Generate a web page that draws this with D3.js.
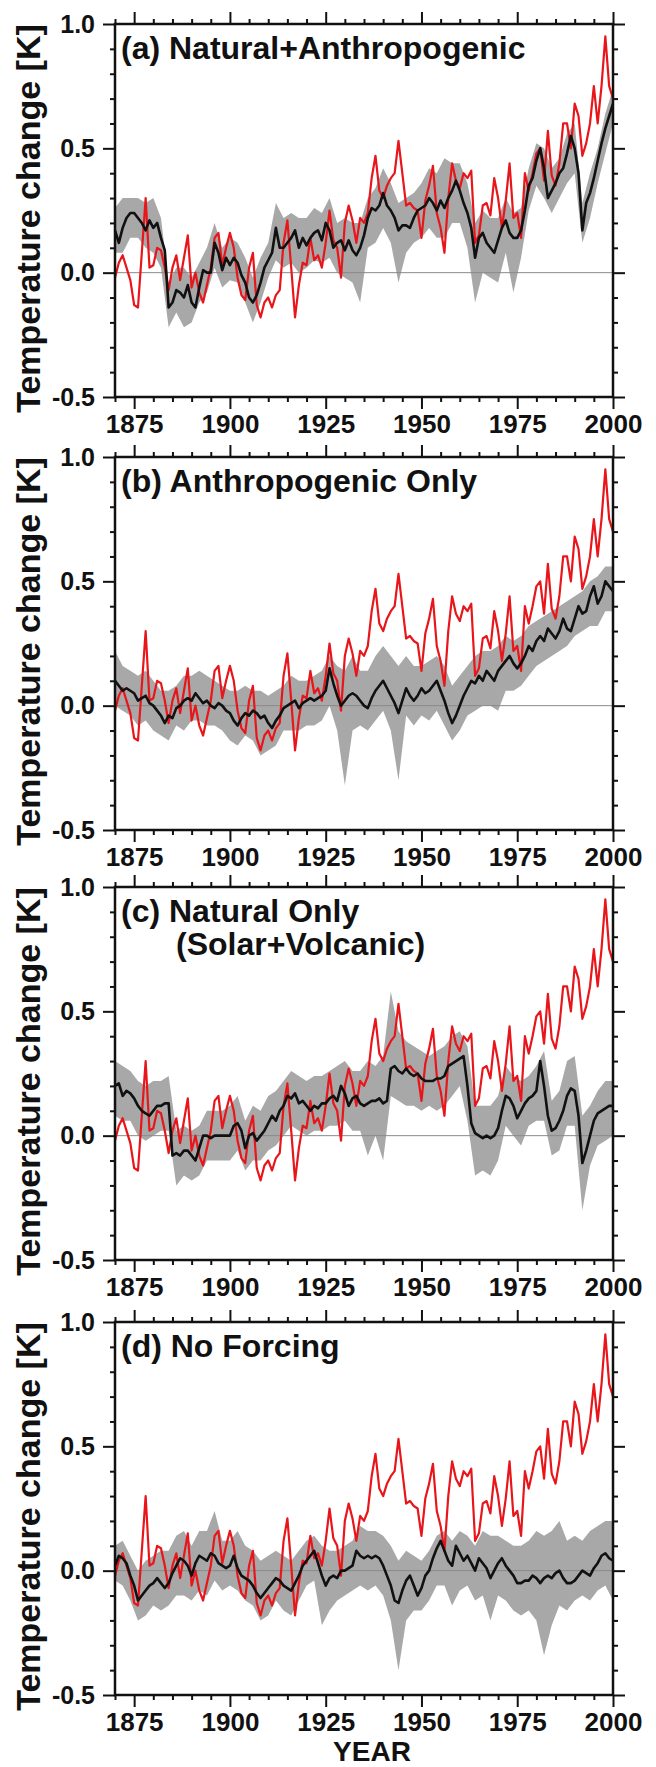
<!DOCTYPE html>
<html>
<head>
<meta charset="utf-8">
<script src="https://cdn.jsdelivr.net/npm/d3@7"></script>
<style>
    body { margin: 0; background: #fff; }
    svg { display: block; }
    text { font-family: "Liberation Sans", Arial, sans-serif; font-weight: bold; fill: #111; }
</style>
</head>
<body>
<svg id="chart" width="656" height="1767"></svg>
<script>
// years on the x axis, band is read every 2 years
var years = d3.range(1870, 2001);
var bandYears = d3.range(1870, 2001, 2);

var xTicks = [1875, 1900, 1925, 1950, 1975, 2000];
var xMinor = [1870, 1880, 1885, 1890, 1895, 1905, 1910, 1915, 1920, 1930, 1935, 1940, 1945, 1955, 1960, 1965, 1970, 1980, 1985, 1990, 1995];
var yTicks = [-0.5, 0.0, 0.5, 1.0];
var yMinor = [-0.4, -0.3, -0.2, -0.1, 0.1, 0.2, 0.3, 0.4, 0.6, 0.7, 0.8, 0.9];

var titles = [
    ["(a) Natural+Anthropogenic"],
    ["(b) Anthropogenic Only"],
    ["(c) Natural Only", "(Solar+Volcanic)"],
    ["(d) No Forcing"]
];

// observed (red), same in every panel
var observed = [
    -0.02, 0.04, 0.07, 0.02, -0.03, -0.13, -0.14, 0.08, 0.30, 0.02,
    0.03, 0.10, 0.09, 0.02, -0.07, 0.02, 0.07, -0.03, 0.06, 0.15,
    -0.06, 0.00, -0.08, -0.12, -0.05, 0.02, 0.14, 0.16, 0.03, 0.10,
    0.16, 0.10, -0.02, -0.09, -0.11, 0.02, 0.08, -0.13, -0.18, -0.12,
    -0.10, -0.14, -0.09, -0.07, 0.12, 0.21, 0.02, -0.18, -0.05, 0.04,
    0.03, 0.14, 0.05, 0.07, 0.02, 0.12, 0.25, 0.13, 0.10, -0.02,
    0.20, 0.27, 0.21, 0.12, 0.22, 0.20, 0.24, 0.38, 0.47, 0.33,
    0.30, 0.35, 0.38, 0.40, 0.53, 0.40, 0.27, 0.28, 0.26, 0.25,
    0.14, 0.29, 0.35, 0.43, 0.24, 0.18, 0.08, 0.30, 0.44, 0.37,
    0.34, 0.40, 0.38, 0.41, 0.12, 0.15, 0.27, 0.28, 0.23, 0.38,
    0.30, 0.18, 0.29, 0.44, 0.22, 0.24, 0.14, 0.40, 0.33, 0.40,
    0.48, 0.50, 0.37, 0.57, 0.39, 0.35, 0.44, 0.60, 0.60, 0.50,
    0.68, 0.63, 0.47, 0.52, 0.60, 0.75, 0.60, 0.75, 0.95, 0.75,
    0.70
];

// (a) natural + anthropogenic
var meanA = [
    0.17, 0.12, 0.18, 0.22, 0.24, 0.24, 0.22, 0.20, 0.17, 0.21,
    0.18, 0.20, 0.14, 0.09, -0.14, -0.12, -0.07, -0.08, -0.10, -0.05,
    -0.12, -0.14, -0.06, 0.01, 0.00, 0.00, 0.12, 0.08, 0.01, 0.06,
    0.03, 0.06, 0.04, -0.01, -0.04, -0.10, -0.12, -0.09, -0.04, 0.02,
    0.05, 0.08, 0.18, 0.10, 0.10, 0.12, 0.14, 0.17, 0.10, 0.14,
    0.11, 0.14, 0.16, 0.17, 0.13, 0.20, 0.17, 0.10, 0.12, 0.13,
    0.09, 0.13, 0.09, 0.07, 0.10, 0.15, 0.22, 0.26, 0.25, 0.27,
    0.32, 0.27, 0.25, 0.22, 0.17, 0.19, 0.19, 0.18, 0.22, 0.25,
    0.26, 0.27, 0.30, 0.28, 0.25, 0.29, 0.26, 0.30, 0.33, 0.37,
    0.33, 0.28, 0.24, 0.18, 0.06, 0.14, 0.16, 0.12, 0.10, 0.08,
    0.13, 0.18, 0.21, 0.16, 0.14, 0.14, 0.17, 0.25, 0.35, 0.38,
    0.45, 0.50, 0.42, 0.30, 0.33, 0.36, 0.40, 0.42, 0.48, 0.55,
    0.50, 0.40, 0.17, 0.28, 0.32, 0.38, 0.45, 0.52, 0.58, 0.63,
    0.68
];
var lowA = [
    0.08, 0.08, 0.14, 0.14, 0.10, 0.08, 0.02, -0.22, -0.16, -0.22,
    -0.20, -0.12, -0.08, 0.02, -0.06, -0.03, -0.04, -0.12, -0.20, -0.12,
    -0.02, 0.05, 0.02, 0.04, 0.00, 0.02, 0.05, 0.04, 0.06, 0.00,
    -0.02, -0.04, -0.12, 0.10, 0.12, 0.18, 0.12, -0.04, 0.08, 0.12,
    0.14, 0.18, 0.14, 0.14, 0.20, 0.20, 0.10, -0.12, 0.00, -0.02,
    -0.04, 0.08, -0.08, 0.06, 0.25, 0.35, 0.30, 0.24, 0.30, 0.36,
    0.40, 0.12, 0.22, 0.36, 0.48, 0.60
];
var highA = [
    0.26, 0.30, 0.30, 0.30, 0.28, 0.30, 0.22, -0.04, 0.02, 0.02,
    -0.02, 0.04, 0.10, 0.20, 0.10, 0.14, 0.12, 0.06, -0.02, 0.06,
    0.12, 0.28, 0.22, 0.24, 0.22, 0.22, 0.26, 0.24, 0.30, 0.20,
    0.22, 0.20, 0.20, 0.30, 0.34, 0.42, 0.36, 0.28, 0.30, 0.32,
    0.36, 0.42, 0.40, 0.46, 0.44, 0.44, 0.36, 0.20, 0.25, 0.22,
    0.22, 0.30, 0.24, 0.26, 0.42, 0.52, 0.50, 0.42, 0.46, 0.56,
    0.60, 0.28, 0.40, 0.50, 0.64, 0.74
];

// (b) anthropogenic only
var meanB = [
    0.10, 0.08, 0.06, 0.07, 0.06, 0.05, 0.02, 0.03, 0.04, 0.01,
    0.00, -0.02, -0.04, -0.07, -0.04, -0.05, -0.01, 0.00, 0.02, 0.03,
    0.02, 0.05, 0.03, 0.01, 0.02, 0.00, -0.01, 0.01, 0.00, -0.02,
    -0.03, -0.06, -0.08, -0.05, -0.03, -0.04, -0.02, -0.03, -0.05, -0.04,
    -0.07, -0.09, -0.06, -0.04, -0.01, 0.00, 0.01, 0.02, -0.01, 0.01,
    0.02, 0.03, 0.02, 0.03, 0.04, 0.06, 0.15, 0.09, 0.04, 0.00,
    0.02, 0.04, 0.05, 0.04, 0.02, 0.00, -0.01, 0.03, 0.06, 0.08,
    0.10, 0.07, 0.04, 0.01, -0.03, 0.02, 0.07, 0.04, 0.02, 0.04,
    0.07, 0.05, 0.06, 0.08, 0.10, 0.06, 0.02, -0.03, -0.07, -0.04,
    0.00, 0.04, 0.07, 0.10, 0.09, 0.12, 0.10, 0.14, 0.12, 0.10,
    0.14, 0.16, 0.18, 0.20, 0.17, 0.15, 0.17, 0.20, 0.24, 0.22,
    0.26, 0.28, 0.26, 0.31, 0.29, 0.27, 0.30, 0.35, 0.31, 0.30,
    0.35, 0.40, 0.37, 0.38, 0.44, 0.48, 0.41, 0.44, 0.50, 0.48,
    0.46
];
var lowB = [
    0.00, -0.02, -0.04, -0.08, -0.06, -0.10, -0.12, -0.14, -0.08, -0.10,
    -0.06, -0.06, -0.08, -0.08, -0.10, -0.14, -0.16, -0.12, -0.14, -0.20,
    -0.18, -0.16, -0.10, -0.10, -0.10, -0.08, -0.08, -0.06, 0.00, -0.10,
    -0.32, -0.10, -0.08, -0.10, -0.06, -0.02, -0.10, -0.30, -0.04, -0.08,
    -0.04, -0.06, -0.02, -0.08, -0.14, -0.10, -0.04, -0.02, 0.00, 0.00,
    -0.02, 0.06, 0.06, 0.08, 0.12, 0.16, 0.18, 0.20, 0.22, 0.24,
    0.28, 0.30, 0.32, 0.32, 0.38, 0.38
];
var highB = [
    0.22, 0.16, 0.14, 0.12, 0.14, 0.10, 0.06, 0.06, 0.08, 0.12,
    0.12, 0.14, 0.12, 0.10, 0.08, 0.06, 0.06, 0.08, 0.06, 0.06,
    0.04, 0.06, 0.08, 0.12, 0.10, 0.10, 0.12, 0.14, 0.20, 0.16,
    0.14, 0.20, 0.14, 0.14, 0.20, 0.24, 0.20, 0.16, 0.20, 0.16,
    0.16, 0.18, 0.20, 0.16, 0.08, 0.12, 0.16, 0.20, 0.22, 0.22,
    0.24, 0.28, 0.26, 0.28, 0.32, 0.34, 0.36, 0.38, 0.40, 0.42,
    0.44, 0.46, 0.50, 0.52, 0.56, 0.56
];

// (c) natural only
var meanC = [
    0.20, 0.21, 0.16, 0.18, 0.17, 0.15, 0.12, 0.10, 0.09, 0.08,
    0.10, 0.12, 0.12, 0.13, 0.13, -0.08, -0.07, -0.08, -0.06, -0.06,
    -0.08, -0.10, -0.05, 0.00, 0.00, -0.01, 0.00, 0.00, 0.00, 0.00,
    0.00, 0.04, 0.05, 0.02, -0.05, 0.00, 0.01, -0.02, 0.00, 0.02,
    0.05, 0.08, 0.06, 0.10, 0.12, 0.16, 0.15, 0.17, 0.13, 0.14,
    0.12, 0.10, 0.12, 0.11, 0.13, 0.13, 0.15, 0.16, 0.14, 0.20,
    0.17, 0.12, 0.15, 0.16, 0.13, 0.12, 0.13, 0.14, 0.14, 0.15,
    0.13, 0.14, 0.27, 0.28, 0.26, 0.25, 0.27, 0.25, 0.24, 0.25,
    0.23, 0.22, 0.22, 0.22, 0.23, 0.23, 0.24, 0.28, 0.29, 0.30,
    0.31, 0.32, 0.20, 0.05, 0.01, 0.00, -0.01, 0.00, -0.01, 0.00,
    0.03, 0.10, 0.16, 0.15, 0.12, 0.07, 0.10, 0.13, 0.15, 0.16,
    0.18, 0.30, 0.20, 0.08, 0.02, 0.03, 0.06, 0.10, 0.16, 0.19,
    0.18, 0.08, -0.11, -0.06, 0.00, 0.06, 0.09, 0.10, 0.11, 0.12,
    0.12
];
var lowC = [
    0.08, 0.06, 0.06, 0.00, -0.02, 0.00, 0.02, 0.02, -0.20, -0.16,
    -0.18, -0.16, -0.10, -0.10, -0.10, -0.10, -0.06, -0.14, -0.10, -0.10,
    -0.06, -0.04, 0.00, 0.04, 0.02, 0.00, 0.02, 0.02, 0.04, 0.04,
    0.06, 0.02, 0.02, -0.08, 0.00, -0.10, 0.16, 0.14, 0.12, 0.12,
    0.10, 0.12, 0.10, 0.12, 0.16, 0.20, 0.06, -0.16, -0.14, -0.16,
    -0.10, 0.04, 0.00, -0.04, 0.04, 0.06, 0.06, -0.08, -0.06, 0.04,
    0.04, -0.30, -0.12, -0.04, -0.02, 0.00
];
var highC = [
    0.30, 0.28, 0.26, 0.22, 0.20, 0.22, 0.22, 0.24, 0.02, 0.04,
    0.02, 0.04, 0.10, 0.10, 0.10, 0.12, 0.16, 0.06, 0.12, 0.10,
    0.16, 0.18, 0.22, 0.26, 0.24, 0.22, 0.24, 0.24, 0.26, 0.28,
    0.30, 0.26, 0.26, 0.30, 0.28, 0.32, 0.58, 0.42, 0.38, 0.36,
    0.34, 0.32, 0.34, 0.36, 0.40, 0.42, 0.36, 0.12, 0.12, 0.12,
    0.16, 0.28, 0.24, 0.22, 0.24, 0.28, 0.34, 0.14, 0.18, 0.30,
    0.32, 0.08, 0.12, 0.18, 0.22, 0.22
];

// (d) no forcing
var meanD = [
    0.02, 0.06, 0.05, 0.03, -0.02, -0.06, -0.12, -0.10, -0.08, -0.06,
    -0.05, -0.03, -0.05, -0.07, -0.05, -0.01, 0.02, 0.05, 0.04, 0.02,
    -0.02, 0.03, 0.06, 0.05, 0.04, 0.07, 0.06, 0.03, 0.02, 0.01,
    0.02, 0.06, 0.01, -0.02, -0.03, -0.04, -0.06, -0.09, -0.11, -0.09,
    -0.07, -0.05, -0.03, -0.04, -0.06, -0.07, -0.08, -0.05, -0.02, 0.02,
    0.04, 0.06, 0.08, 0.03, -0.02, -0.06, -0.03, -0.02, -0.03, 0.00,
    0.00, 0.01, 0.02, 0.08, 0.06, 0.05, 0.06, 0.05, 0.06, 0.05,
    0.02, -0.02, -0.06, -0.12, -0.13, -0.08, -0.04, -0.02, -0.06, -0.10,
    -0.07, -0.02, 0.00, 0.05, 0.09, 0.12, 0.08, 0.04, 0.02, 0.10,
    0.07, 0.04, 0.06, 0.03, 0.00, 0.05, 0.03, 0.01, -0.03, 0.00,
    0.03, 0.05, 0.02, 0.00, -0.02, -0.05, -0.05, -0.04, -0.04, -0.02,
    -0.03, -0.05, -0.03, -0.02, -0.03, -0.01, 0.00, -0.03, -0.05, -0.05,
    -0.04, -0.02, 0.00, -0.01, -0.02, 0.01, 0.03, 0.06, 0.07, 0.05,
    0.04
];
var lowD = [
    -0.04, -0.06, -0.12, -0.20, -0.18, -0.14, -0.16, -0.14, -0.10, -0.10,
    -0.12, -0.08, -0.10, -0.04, -0.08, -0.06, -0.08, -0.12, -0.14, -0.20,
    -0.18, -0.12, -0.16, -0.18, -0.12, -0.06, -0.04, -0.22, -0.16, -0.12,
    -0.10, -0.08, -0.06, -0.08, -0.06, -0.10, -0.20, -0.40, -0.20, -0.16,
    -0.16, -0.12, -0.06, -0.06, -0.14, -0.08, -0.06, -0.12, -0.10, -0.20,
    -0.10, -0.12, -0.16, -0.18, -0.16, -0.20, -0.34, -0.22, -0.14, -0.16,
    -0.12, -0.10, -0.12, -0.08, -0.06, -0.12
];
var highD = [
    0.10, 0.12, 0.06, 0.00, 0.04, 0.06, 0.08, 0.08, 0.14, 0.16,
    0.10, 0.16, 0.16, 0.24, 0.12, 0.12, 0.16, 0.10, 0.08, 0.04,
    0.06, 0.08, 0.06, 0.04, 0.08, 0.12, 0.14, 0.10, 0.08, 0.08,
    0.10, 0.12, 0.18, 0.16, 0.16, 0.14, 0.10, 0.04, 0.08, 0.06,
    0.04, 0.08, 0.14, 0.16, 0.12, 0.16, 0.14, 0.10, 0.16, 0.14,
    0.14, 0.12, 0.10, 0.10, 0.12, 0.16, 0.14, 0.16, 0.20, 0.12,
    0.14, 0.12, 0.16, 0.18, 0.20, 0.20
];

var panels = [
    { mean: meanA, low: lowA, high: highA },
    { mean: meanB, low: lowB, high: highB },
    { mean: meanC, low: lowC, high: highC },
    { mean: meanD, low: lowD, high: highD }
];

var svg = d3.select('#chart');

var left = 115, right = 613;
var panelTop = [24, 457, 887, 1322];
var panelH = 373;

var x = d3.scaleLinear().domain([1870, 2000]).range([left, right]);

function styleTicks(g) {
    g.select(".domain").remove();
    g.selectAll("line").attr("stroke", "#111").attr("stroke-width", 2);
    g.selectAll("text").attr("fill", "#111");
}

panels.forEach(function (p, i) {
    var top = panelTop[i];
    var y = d3.scaleLinear().domain([-0.5, 1.0]).range([top + panelH, top]);

    var band = bandYears.map(function (yr, k) { return { year: yr, lo: p.low[k], hi: p.high[k] }; });
    var area = d3.area()
        .x(function (d) { return x(d.year); })
        .y0(function (d) { return y(d.lo); })
        .y1(function (d) { return y(d.hi); });

    svg.append("path")
        .datum(band)
        .attr("d", area)
        .attr("fill", "#a8a8a8");

    // zero line
    svg.append("line")
        .attr("x1", left).attr("x2", right)
        .attr("y1", y(0)).attr("y2", y(0))
        .attr("stroke", "#8a8a8a")
        .attr("stroke-width", 1);

    var line = d3.line()
        .x(function (d, k) { return x(years[k]); })
        .y(function (d) { return y(d); });

    svg.append("path")
        .datum(observed)
        .attr("d", line)
        .attr("fill", "none")
        .attr("stroke", "#e8161b")
        .attr("stroke-width", 2.2)
        .attr("stroke-linejoin", "round");

    svg.append("path")
        .datum(p.mean)
        .attr("d", line)
        .attr("fill", "none")
        .attr("stroke", "#111")
        .attr("stroke-width", 2.6)
        .attr("stroke-linejoin", "round");

    // axes: major + minor ticks on all four sides
    svg.append("g")
        .attr("transform", "translate(0," + (top + panelH) + ")")
        .call(d3.axisBottom(x).tickValues(xTicks).tickSize(12).tickPadding(6).tickFormat(d3.format("d")))
        .call(styleTicks)
        .attr("font-size", 26)
        .attr("font-family", null);
    svg.append("g")
        .attr("transform", "translate(0," + (top + panelH) + ")")
        .call(d3.axisBottom(x).tickValues(xMinor).tickSize(5).tickFormat(""))
        .call(styleTicks);
    svg.append("g")
        .attr("transform", "translate(0," + top + ")")
        .call(d3.axisTop(x).tickValues(xTicks).tickSize(12).tickFormat(""))
        .call(styleTicks);
    svg.append("g")
        .attr("transform", "translate(0," + top + ")")
        .call(d3.axisTop(x).tickValues(xMinor).tickSize(5).tickFormat(""))
        .call(styleTicks);

    svg.append("g")
        .attr("transform", "translate(" + left + ",0)")
        .call(d3.axisLeft(y).tickValues(yTicks).tickSize(12).tickPadding(8)
            .tickFormat(function (d) { return d.toFixed(1); }))
        .call(styleTicks)
        .attr("font-size", 25)
        .attr("font-family", null);
    svg.append("g")
        .attr("transform", "translate(" + left + ",0)")
        .call(d3.axisLeft(y).tickValues(yMinor).tickSize(5).tickFormat(""))
        .call(styleTicks);
    svg.append("g")
        .attr("transform", "translate(" + right + ",0)")
        .call(d3.axisRight(y).tickValues(yTicks).tickSize(12).tickFormat(""))
        .call(styleTicks);
    svg.append("g")
        .attr("transform", "translate(" + right + ",0)")
        .call(d3.axisRight(y).tickValues(yMinor).tickSize(5).tickFormat(""))
        .call(styleTicks);

    // frame
    svg.append("rect")
        .attr("x", left).attr("y", top)
        .attr("width", right - left).attr("height", panelH)
        .attr("fill", "none")
        .attr("stroke", "#111")
        .attr("stroke-width", 2.5);

    // panel title
    titles[i].forEach(function (t, k) {
        svg.append("text")
            .attr("x", k === 0 ? left + 6 : left + 61)
            .attr("y", top + 35 + k * 33)
            .attr("font-size", 32)
            .text(t);
    });

    // y label
    svg.append("text")
        .attr("transform", "translate(" + 28 + "," + (top + panelH / 2 + 8) + "), rotate(-90)")
        .attr("text-anchor", "middle")
        .attr("dominant-baseline", "central")
        .attr("font-size", 34)
        .text("Temperature change [K]");
});

svg.append("text")
    .attr("x", 372)
    .attr("y", 1761)
    .attr("text-anchor", "middle")
    .attr("font-size", 28)
    .text("YEAR");
</script>
</body>
</html>
